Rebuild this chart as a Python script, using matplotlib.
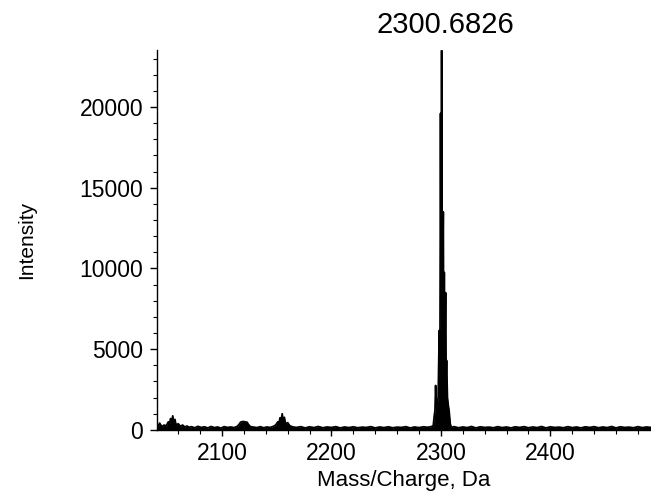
import numpy as np
import matplotlib.pyplot as plt
from matplotlib.ticker import MultipleLocator

plt.rcParams['font.family'] = ['Liberation Sans', 'DejaVu Sans']

# m/z values (Da) and intensities
mz = [
    2041, 2043, 2045, 2047, 2049, 2051, 2052, 2053, 2054, 2055, 2056, 2057, 2058,
    2060, 2062, 2064, 2066, 2068, 2070,
    2072, 2075, 2078, 2081, 2084, 2087, 2090, 2093, 2096, 2099, 2102, 2105, 2108,
    2111, 2114,
    2116, 2117, 2119, 2121, 2123, 2124, 2126,
    2129, 2132, 2135, 2138, 2141, 2144, 2147,
    2149, 2151, 2152, 2153, 2154, 2155, 2156, 2157, 2158, 2160, 2162, 2165,
    2168, 2172, 2176, 2180, 2184, 2188, 2192, 2196, 2200, 2204, 2208, 2212, 2216,
    2220, 2224, 2228, 2232, 2236, 2240, 2244, 2248, 2252, 2256, 2260, 2264, 2268,
    2272, 2276, 2280, 2284, 2288, 2291,
    2293.0, 2294.0, 2294.6, 2295.2, 2295.8, 2296.5, 2297.5, 2298.5, 2299.1,
    2299.7, 2300.2, 2300.68, 2301.3, 2302.2, 2302.6, 2303.1, 2303.6, 2304.3,
    2304.8, 2305.2, 2306.0, 2306.8, 2307.5, 2308.5, 2309.5,
    2312, 2316, 2320, 2324, 2328, 2332, 2336, 2340, 2344, 2348, 2352, 2356, 2360,
    2364, 2368, 2372, 2376, 2380, 2384, 2388, 2392, 2396, 2400, 2404, 2408, 2412,
    2416, 2420, 2424, 2428, 2432, 2436, 2440, 2444, 2448, 2452, 2456, 2460, 2464,
    2468, 2472, 2476, 2480, 2484, 2488, 2492,
]
intensity = [
    150, 420, 200, 300, 250, 500, 350, 700, 480, 870, 400, 650, 300,
    380, 220, 300, 180, 240, 160,
    200, 130, 220, 150, 190, 120, 210, 140, 180, 110, 200, 150, 180,
    140, 220,
    380, 480, 520, 500, 470, 350, 200,
    170, 140, 200, 130, 180, 150, 220,
    300, 500, 380, 750, 560, 1000, 520, 780, 380, 450, 250, 180,
    150, 200, 120, 190, 140, 210, 130, 180, 150, 200, 120, 180, 140,
    190, 130, 170, 150, 200, 120, 180, 140, 190, 130, 170, 150, 200,
    120, 180, 140, 190, 160, 200,
    250, 900, 1200, 2750, 1400, 1600, 2000, 6150, 3000,
    19600, 8000, 23500, 7000, 13500, 5000, 9750, 4500, 8500,
    3500, 4300, 2000, 1500, 1200, 400, 150,
    200, 130, 180, 140, 210, 120, 190, 150, 170, 130, 200, 140, 180,
    120, 190, 150, 200, 130, 180, 140, 210, 120, 190, 150, 170, 130,
    200, 140, 180, 120, 190, 150, 200, 130, 180, 140, 210, 120, 190,
    150, 170, 130, 200, 140, 180, 150,
]

peak_label = '2300.6826'
peak_mz = 2300.68
x_ticks = [2100, 2200, 2300, 2400]
y_ticks = [0, 5000, 10000, 15000, 20000]

fig = plt.figure(figsize=(6.51, 4.93), dpi=100)
ax = fig.add_axes([0.241, 0.128, 0.759, 0.771])

ax.fill_between(mz, intensity, 0, color='black', linewidth=0)
ax.plot(mz, intensity, color='black', lw=1.3)

ax.set_xlim(2040.5, 2492)
ax.set_ylim(0, 23540)
ax.set_xticks(x_ticks)
ax.set_yticks(y_ticks)
ax.xaxis.set_minor_locator(MultipleLocator(20))
ax.yaxis.set_minor_locator(MultipleLocator(1000))

for side in ['top', 'right']:
    ax.spines[side].set_visible(False)
ax.spines['left'].set_linewidth(1.0)
ax.spines['bottom'].set_linewidth(1.0)

ax.tick_params(axis='x', which='major', labelsize=16.5, length=4, width=1, pad=5)
ax.tick_params(axis='y', which='major', labelsize=16.5, length=5, width=1, pad=5)
ax.tick_params(axis='both', which='minor', length=3, width=0.8)

ax.set_xlabel('Mass/Charge, Da', fontsize=16, labelpad=3)
ax.set_ylabel('Intensity', fontsize=15, labelpad=31)

ax.text(peak_mz + 3, 25100, peak_label, fontsize=21, ha='center', va='center',
        clip_on=False)

fig.savefig('out.png', dpi=100)
